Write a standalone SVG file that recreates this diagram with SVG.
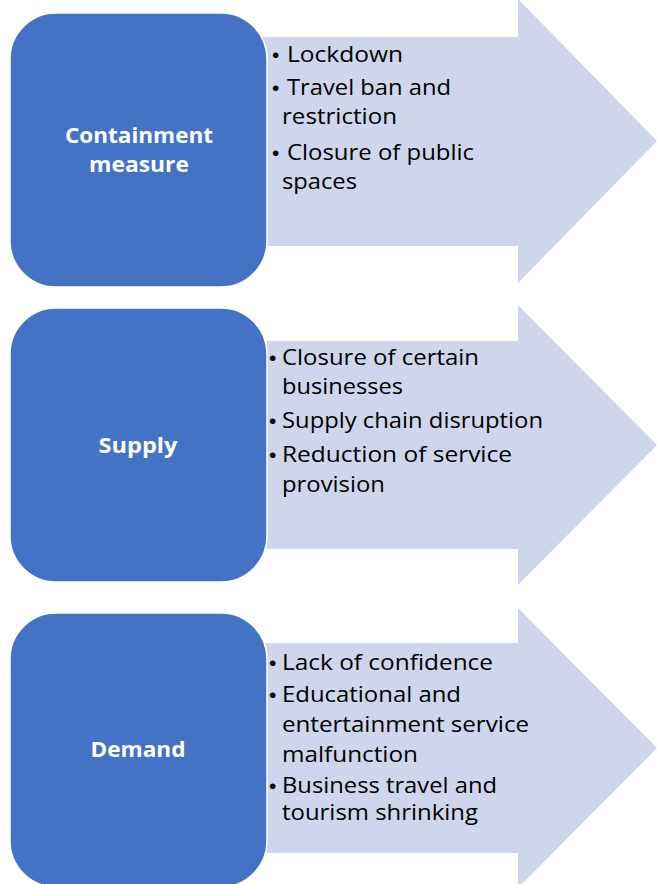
<svg xmlns="http://www.w3.org/2000/svg" width="657" height="884" viewBox="0 0 657 884">
<style>
.arrow{fill:#CFD5EA;stroke:none}
.box{fill:#4472C4;stroke:#FFFFFF;stroke-width:1.5}
.title{font-family:"Open Sans","Noto Sans","Liberation Sans",sans-serif;font-weight:bold;font-size:22px;fill:#FFFFFF;text-anchor:middle}
.item{font-family:"Open Sans","Noto Sans","Liberation Sans",sans-serif;font-size:21px;fill:#000000}
.bul{font-family:"Liberation Sans",sans-serif;font-size:21px;fill:#000000}
</style>
<rect width="657" height="884" fill="#FFFFFF"/>
<g id="connectors">
<polygon id="arrow1" class="arrow" points="140,37 518,37 518,-1 657,141 518,283 518,246 140,246"/>
<polygon id="arrow2" class="arrow" points="140,341 518,341 518,305 657,445 518,585 518,549 140,549"/>
<polygon id="arrow3" class="arrow" points="140,643 518,643 518,608 657,748 518,888 518,853 140,853"/>
</g>
<g id="node-containment">
<rect class="box" x="10" y="13" width="257" height="274" rx="46" ry="46"/>
<text class="title" x="139" y="143" textLength="148" lengthAdjust="spacingAndGlyphs">Containment</text>
<text class="title" x="139" y="172" textLength="100" lengthAdjust="spacingAndGlyphs">measure</text>
</g>
<g id="list-containment">
<text class="bul" x="272" y="62">•</text>
<text class="item" x="287" y="62" textLength="116" lengthAdjust="spacingAndGlyphs">Lockdown</text>
<text class="bul" x="272" y="95">•</text>
<text class="item" x="287" y="95" textLength="164" lengthAdjust="spacingAndGlyphs">Travel ban and</text>
<text class="item" x="282" y="124" textLength="115" lengthAdjust="spacingAndGlyphs">restriction</text>
<text class="bul" x="272" y="160">•</text>
<text class="item" x="287" y="160" textLength="187" lengthAdjust="spacingAndGlyphs">Closure of public</text>
<text class="item" x="282" y="189" textLength="75" lengthAdjust="spacingAndGlyphs">spaces</text>
</g>
<g id="node-supply">
<rect class="box" x="10" y="308" width="257" height="274" rx="46" ry="46"/>
<text class="title" x="138" y="453" textLength="79" lengthAdjust="spacingAndGlyphs">Supply</text>
</g>
<g id="list-supply">
<text class="bul" x="269" y="365">•</text>
<text class="item" x="282" y="365" textLength="197" lengthAdjust="spacingAndGlyphs">Closure of certain</text>
<text class="item" x="282" y="394" textLength="121" lengthAdjust="spacingAndGlyphs">businesses</text>
<text class="bul" x="269" y="428">•</text>
<text class="item" x="282" y="428" textLength="261" lengthAdjust="spacingAndGlyphs">Supply chain disruption</text>
<text class="bul" x="269" y="462">•</text>
<text class="item" x="282" y="462" textLength="230" lengthAdjust="spacingAndGlyphs">Reduction of service</text>
<text class="item" x="282" y="492" textLength="103" lengthAdjust="spacingAndGlyphs">provision</text>
</g>
<g id="node-demand">
<rect class="box" x="10" y="613" width="257" height="274" rx="46" ry="46"/>
<text class="title" x="138" y="757" textLength="95" lengthAdjust="spacingAndGlyphs">Demand</text>
</g>
<g id="list-demand">
<text class="bul" x="269" y="670">•</text>
<text class="item" x="282" y="670" textLength="211" lengthAdjust="spacingAndGlyphs">Lack of confidence</text>
<text class="bul" x="269" y="702">•</text>
<text class="item" x="282" y="702" textLength="179" lengthAdjust="spacingAndGlyphs">Educational and</text>
<text class="item" x="282" y="732" textLength="247" lengthAdjust="spacingAndGlyphs">entertainment service</text>
<text class="item" x="282" y="762" textLength="136" lengthAdjust="spacingAndGlyphs">malfunction</text>
<text class="bul" x="269" y="793">•</text>
<text class="item" x="282" y="793" textLength="215" lengthAdjust="spacingAndGlyphs">Business travel and</text>
<text class="item" x="282" y="820" textLength="196" lengthAdjust="spacingAndGlyphs">tourism shrinking</text>
</g>
</svg>
